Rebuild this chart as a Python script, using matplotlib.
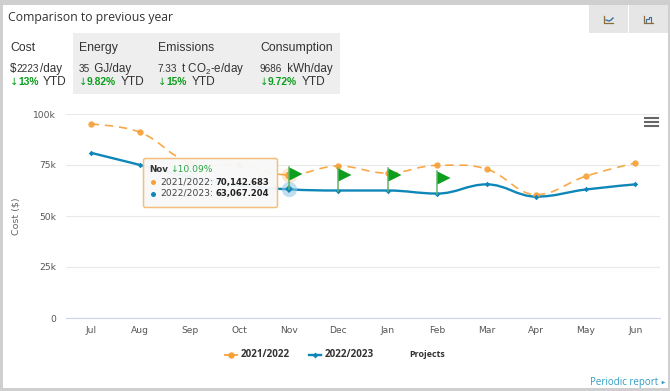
import matplotlib
matplotlib.use('Agg')
import matplotlib.pyplot as plt
from matplotlib.patches import Rectangle, FancyBboxPatch, PathPatch
from matplotlib.path import Path

months = ['Jul', 'Aug', 'Sep', 'Oct', 'Nov', 'Dec', 'Jan', 'Feb', 'Mar', 'Apr', 'May', 'Jun']
y2021 = [95, 91, 76, 75, 70.14, 74.5, 71, 74.8, 73, 60.5, 69.5, 76]
y2022 = [81, 75, 69, 65, 63.07, 62.5, 62.5, 61, 65.5, 59.5, 63, 65.5]
flag_idx = [4, 5, 6, 7]
flag_top = [74.2, 73.6, 73.6, 72.2]
yticks = [0, 25, 50, 75, 100]
ylabels = ['0', '25k', '50k', '75k', '100k']
ORANGE = '#f7a035'
BLUE = '#0f86b8'
GREEN = '#0d9e1d'
W, H = 670, 391
plt.rcParams['mathtext.default'] = 'regular'
plt.rcParams['mathtext.fontset'] = 'custom'
plt.rcParams['mathtext.rm'] = 'Liberation Sans'

fig = plt.figure(figsize=(W / 100, H / 100), dpi=100, facecolor='white')


def spline(xs, ys):
    verts, codes = [(xs[0], ys[0])], [Path.MOVETO]
    n = len(xs)
    for i in range(1, n):
        p0 = max(i - 2, 0)
        p3 = min(i + 1, n - 1)
        a = i - 1
        d1 = (ys[i] - ys[p0]) / 5 if a > 0 else 0
        d2 = (ys[p3] - ys[a]) / 5 if i < n - 1 else 0
        if a > 0 and (ys[a] - ys[p0]) * (ys[i] - ys[a]) <= 0:
            d1 = 0
        if i < n - 1 and (ys[i] - ys[a]) * (ys[p3] - ys[i]) <= 0:
            d2 = 0
        c1 = 0.4 if a > 0 else 0
        c2 = 0.4 if i < n - 1 else 0
        verts += [(xs[a] + c1, ys[a] + d1), (xs[i] - c2, ys[i] - d2), (xs[i], ys[i])]
        codes += [Path.CURVE4] * 3
    return Path(verts, codes)


# chart
ax = fig.add_axes([66 / W, 1 - 318 / H, 594 / W, 204 / H], zorder=2)
ax.patch.set_alpha(0)
ax.set_xlim(-0.5, 11.5)
ax.set_ylim(0, 100)
for s in ['top', 'left', 'right']:
    ax.spines[s].set_visible(False)
ax.spines['bottom'].set_color('#ccd6eb')
ax.spines['bottom'].set_linewidth(0.8)
ax.set_axisbelow(True)
ax.grid(axis='y', color='#e9e9e9', lw=0.8)
ax.set_yticks(yticks, ylabels)
ax.set_xticks(range(12), months)
ax.tick_params(length=0, labelsize=6.6, labelcolor='#555555')
for t in ax.get_xticklabels() + ax.get_yticklabels():
    t.set_family('DejaVu Sans')
ax.tick_params(axis='y', pad=7)
ax.tick_params(axis='x', pad=5.5)
xs = list(range(12))
ax.add_patch(PathPatch(spline(xs, y2021), fc='none', ec=ORANGE, lw=1.2, ls=(0, (5, 3.5)), alpha=0.9))
ax.add_patch(PathPatch(spline(xs, y2022), fc='none', ec=BLUE, lw=1.7))
ax.plot(xs, y2021, ls='none', marker='o', ms=4.6, color=ORANGE, mew=0, alpha=0.9)
ax.plot(xs, y2022, ls='none', marker='D', ms=2.8, color=BLUE, mew=0)
ax.plot(4, y2021[4], ls='none', marker='o', ms=11, color=ORANGE, mew=0, alpha=0.25)
ax.plot(4, y2021[4], ls='none', marker='o', ms=6, color=ORANGE, mew=0)
ax.plot(4, y2022[4], ls='none', marker='o', ms=11, color='#8cc6e6', mew=0, alpha=0.55)
ax.plot(4, y2022[4], ls='none', marker='D', ms=4, color=BLUE, mew=0)
flag_marker = Path([(0, 0), (13, -6.5), (0, -13), (0, 0)], closed=True)
for i, top in zip(flag_idx, flag_top):
    ax.plot([i, i], [y2022[i], top], color='#5fb56a', lw=1.1, zorder=6)
    ax.plot(i, top, ls='none', marker=flag_marker, ms=18.7, color=GREEN, mew=0, zorder=6)
ax.set_ylabel('Cost ($)', fontsize=6.8, color='#666666', family='DejaVu Sans')
ax.yaxis.set_label_coords((21 - 66) / 594, 0.5)

# page furniture (pixel coordinates)
ov = fig.add_axes([0, 0, 1, 1], zorder=5)
ov.set_xlim(0, W)
ov.set_ylim(H, 0)
ov.axis('off')
GREY = '#cfcfcf'
for r in [(0, 0, W, 5), (0, 0, 3, H), (668, 0, 2, H), (0, 388, W, 3)]:
    ov.add_patch(Rectangle((r[0], r[1]), r[2], r[3], fc=GREY, ec='none'))
ov.add_patch(Rectangle((589, 5), 39, 28, fc='#e6e6e6', ec='none'))
ov.add_patch(Rectangle((629, 5), 39, 28, fc='#e6e6e6', ec='none'))
ov.add_patch(Rectangle((73, 33), 267, 61, fc='#eeeeee', ec='none'))
for x in [604, 644]:
    ov.plot([x, x, x + 9], [16, 23, 23], color='#8a6d3b', lw=0.9)
ov.plot([606, 609, 611, 613], [20, 21, 20, 18], color='#3a6ea5', lw=1)
ov.plot([646, 646, 649, 649, 651, 651], [22, 19, 19, 17, 17, 22], color='#3a6ea5', lw=0.8)
for y in [118, 122, 126]:
    ov.plot([645, 658], [y, y], color='#666666', lw=1.5)

ov.text(8, 17, 'Comparison to previous year', fontsize=8.8, color='#333333', family='Open Sans', va='center')
F = 'Liberation Sans'
panels = [
    (10, 'Cost', '$', '2223', '/day', '13%', 43),
    (79, 'Energy', '', '35', ' GJ/day', '9.82%', 121),
    (158, 'Emissions', '', '7.33', ' t CO$_2$-e/day', '15%', 192),
    (260, 'Consumption', '', '9686', ' kWh/day', '9.72%', 302),
]
small_w = {'2223': 24, '35': 12, '7.33': 20, '9686': 24}
for x, name, pre, num, unit, pct, yx in panels:
    ov.text(x, 48, name, fontsize=8.8, color='#333333', family=F, va='center')
    cx = x
    if pre:
        ov.text(cx, 69, pre, fontsize=8.4, color='#333333', family=F, va='center')
        cx += 6
    ov.text(cx, 69.5, num, fontsize=7.2, color='#333333', family=F, va='center')
    ov.text(cx + small_w[num], 69, unit, fontsize=8.4, color='#333333', family=F, va='center')
    ov.text(x - 0.5, 82, '↓', fontsize=7.2, color=GREEN, family='DejaVu Sans', va='center')
    ov.text(x + 8, 82, pct, fontsize=7.4, color=GREEN, family=F, weight='bold', va='center')
    ov.text(yx, 82, 'YTD', fontsize=8.6, color='#333333', family=F, va='center')

# tooltip
ov.add_patch(FancyBboxPatch((143.5, 158.5), 134, 49, boxstyle='round,pad=0,rounding_size=2',
                            fc='#f8f8f8', ec='#f4bd78', lw=1.1, alpha=0.96))
T = 'DejaVu Sans'
ov.text(149.5, 170, 'Nov', fontsize=6.3, color='#333333', family=T, weight='bold', va='center')
ov.text(170, 170, '↓10.09%', fontsize=6.6, color='#28a745', family=T, va='center')
ov.plot(152.5, 182, 'o', ms=3.6, color=ORANGE, mew=0)
ov.plot(152.5, 193.5, 'o', ms=3.6, color=BLUE, mew=0)
ov.text(160, 182, '2021/2022:', fontsize=6.6, color='#444444', family=T, va='center')
ov.text(160, 193.5, '2022/2023:', fontsize=6.6, color='#444444', family=T, va='center')
ov.text(269, 182, '70,142.683', fontsize=6.1, color='#222222', family=T, weight='bold', va='center', ha='right')
ov.text(269, 193.5, '63,067.204', fontsize=6.1, color='#222222', family=T, weight='bold', va='center', ha='right')

# legend
ov.plot([225, 237], [354.5, 354.5], color=ORANGE, lw=1.3)
ov.plot(231, 354.5, 'o', ms=4.6, color=ORANGE, mew=0)
ov.plot([309, 321], [354.5, 354.5], color=BLUE, lw=1.7)
ov.plot(315, 354.5, 'D', ms=3, color=BLUE, mew=0)
ov.text(241, 354.5, '2021/2022', fontsize=7.1, color='#333333', family='Open Sans', weight='bold', va='center')
ov.text(325, 354.5, '2022/2023', fontsize=7.1, color='#333333', family='Open Sans', weight='bold', va='center')
ov.text(409, 354.5, 'Projects', fontsize=6.4, color='#333333', family='Open Sans', weight='bold', va='center')
ov.text(590, 382, 'Periodic report', fontsize=7.0, color='#2f9ec4', family='Open Sans', va='center')
ov.plot(663, 382, marker='>', ms=2.6, color='#2f9ec4', mew=0)

fig.savefig('out.png', dpi=100)
